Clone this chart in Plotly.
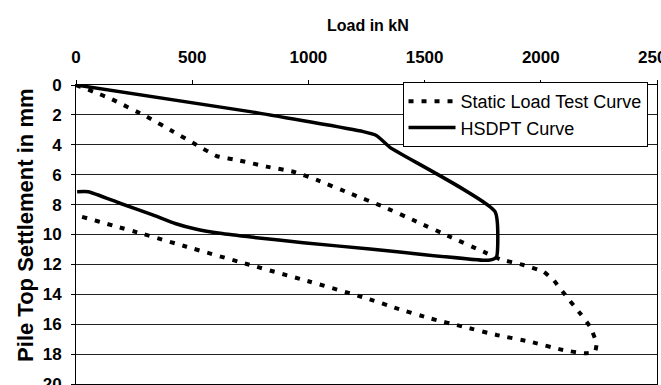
import plotly.graph_objects as go

# Static load test curve (load kN, settlement mm)
static_load = [0, 75, 146, 304, 419, 519, 605, 706, 820, 935, 1036, 1179, 1322, 1466, 1609,
               1753, 1824, 1925, 2011, 2054, 2111, 2169, 2212, 2240, 2233, 2190, 2097, 1953,
               1810, 1667, 1523, 1380, 1251, 1007, 734, 476, 290, 161, 24, 5]
static_settle = [0, 0.45, 0.89, 2.12, 3.12, 4.01, 4.75, 5.06, 5.46, 5.8, 6.35, 7.25, 8.14, 9.14, 10.15,
                 11.15, 11.65, 12.04, 12.49, 13.04, 14.16, 15.27, 16.17, 17.28, 17.84, 17.95, 17.73, 17.17,
                 16.72, 16.17, 15.61, 14.94, 14.27, 13.16, 11.97, 10.82, 9.97, 9.41, 8.81, 8.75]

# HSDPT curve
hsdpt_load = [0, 749, 1236, 1294, 1351, 1803, 1810, 1800, 1775, 1750, 1500, 1265, 978, 763,
              620, 519, 430, 333, 189, 53, 5]
hsdpt_settle = [0, 1.78, 3.12, 3.39, 4.17, 8.47, 11.48, 11.62, 11.72, 11.72, 11.35, 10.97, 10.55, 10.19,
                9.92, 9.65, 9.28, 8.70, 7.91, 7.14, 7.14]

x_ticks = [0, 500, 1000, 1500, 2000, 2500]
y_ticks = [0, 2, 4, 6, 8, 10, 12, 14, 16, 18, 20]

FONT = "Liberation Sans, Arial, sans-serif"

fig = go.Figure()
fig.add_trace(go.Scatter(x=static_load, y=static_settle, mode="lines",
                         name="Static Load Test Curve", legendgroup="a",
                         line=dict(color="black", width=4, dash="5px,8px",
                                   shape="spline", smoothing=0.4)))
fig.add_trace(go.Scatter(x=hsdpt_load, y=hsdpt_settle, mode="lines",
                         name="HSDPT Curve", legendgroup="b",
                         line=dict(color="black", width=3.5, shape="spline", smoothing=0.5)))

fig.update_layout(
    width=661, height=385,
    margin=dict(l=76, r=4, t=85, b=1, autoexpand=False),
    paper_bgcolor="white", plot_bgcolor="white",
    font=dict(family=FONT, color="black"),
    legend=dict(x=0.562, y=1.01, xanchor="left", yanchor="top",
                bgcolor="white", bordercolor="black", borderwidth=1,
                font=dict(size=18, family=FONT, color="black"),
                itemwidth=47, traceorder="grouped", tracegroupgap=0),
    xaxis=dict(side="top", range=[0, 2500], tickvals=x_ticks,
               showgrid=False, zeroline=False,
               showline=True, linecolor="black", linewidth=1, mirror=True,
               ticks="outside", ticklen=4, tickcolor="black",
               tickfont=dict(size=17, family=FONT, weight="bold"),
               ticklabeloverflow="allow", ticklabelstandoff=10,
               automargin=False),
    yaxis=dict(range=[20, 0], tickvals=y_ticks,
               showgrid=True, gridcolor="#222", gridwidth=1, zeroline=False,
               showline=True, linecolor="black", linewidth=1, mirror=True,
               ticks="outside", ticklen=4, tickcolor="black",
               tickfont=dict(size=17, family=FONT, weight="bold"),
               ticklabeloverflow="allow", ticklabelstandoff=6,
               automargin=False),
    annotations=[
        dict(text="Load in kN", xref="paper", yref="paper", x=0.5026, y=1.20,
             xanchor="center", yanchor="middle", showarrow=False,
             font=dict(size=16, family=FONT, weight="bold")),
        dict(text="Pile Top Settlement in mm", xref="paper", yref="paper",
             x=-0.0861, y=0.532, xanchor="center", yanchor="middle",
             textangle=-90, showarrow=False,
             font=dict(size=22, family=FONT, weight="bold")),
    ],
)

fig.write_html("out.html")
